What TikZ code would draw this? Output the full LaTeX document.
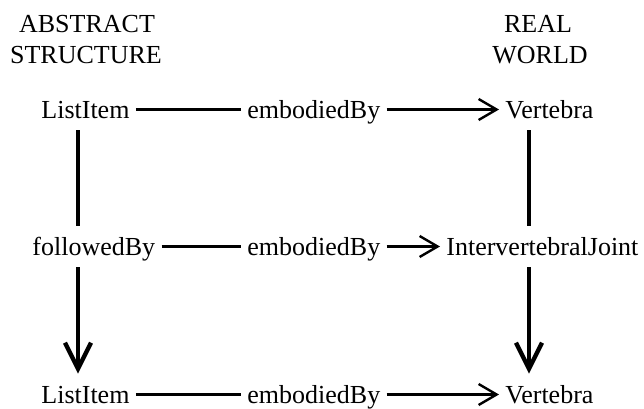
\documentclass[tikz,border=0pt]{standalone}
\usepackage{fontspec}
\setmainfont{Liberation Serif}
\usetikzlibrary{arrows.meta}

\begin{document}
\begin{tikzpicture}[x=0.5pt, y=-0.5pt,
    every node/.style={font=\fontsize{13}{15.5}\selectfont},
    item/.style={anchor=base west, inner xsep=3pt, inner ysep=5.5pt, text height=9pt, text depth=0.5pt},
    hdr/.style={anchor=base, inner sep=0pt},
    hline/.style={line width=1.2pt},
    vline/.style={line width=2.2pt},
    harr/.style={hline, -{Straight Barb[length=9pt, width=10.5pt]}},
    varr/.style={vline, -{Straight Barb[length=13pt, width=13pt]}}]
        \useasboundingbox (0,0) rectangle (644,408);

        \node[hdr] (absA) at (87, 32) {ABSTRACT};
        \node[hdr] (absB) at (86, 63) {STRUCTURE};
        \node[hdr] (realA) at (538, 32) {REAL};
        \node[hdr] (realB) at (540, 63) {WORLD};

        \node[item] (li1) at (35, 118) {ListItem};
        \node[item] (emb1) at (241, 118) {embodiedBy};
        \node[item] (vert1) at (499, 118) {Vertebra};

        \node[item] (fol) at (26, 255) {followedBy};
        \node[item] (emb2) at (241, 255) {embodiedBy};
        \node[item] (joint) at (440, 255) {IntervertebralJoint};

        \node[item] (li2) at (35, 403) {ListItem};
        \node[item] (emb3) at (241, 403) {embodiedBy};
        \node[item] (vert2) at (499, 403) {Vertebra};

        \coordinate (lx) at (78, 0);
        \coordinate (rx) at (529, 0);

        \draw [hline] (li1) -- (emb1);
        \draw [harr] (emb1) -- (vert1);
        \draw [hline] (fol) -- (emb2);
        \draw [harr] (emb2) -- (joint);
        \draw [hline] (li2) -- (emb3);
        \draw [harr] (emb3) -- (vert2);

        \draw [vline] (li1.south -| lx) -- (fol.north -| lx);
        \draw [varr] (fol.south -| lx) -- (li2.north -| lx);
        \draw [vline] (vert1.south -| rx) -- (joint.north -| rx);
        \draw [varr] (joint.south -| rx) -- (vert2.north -| rx);
      \end{tikzpicture}
\end{document}
